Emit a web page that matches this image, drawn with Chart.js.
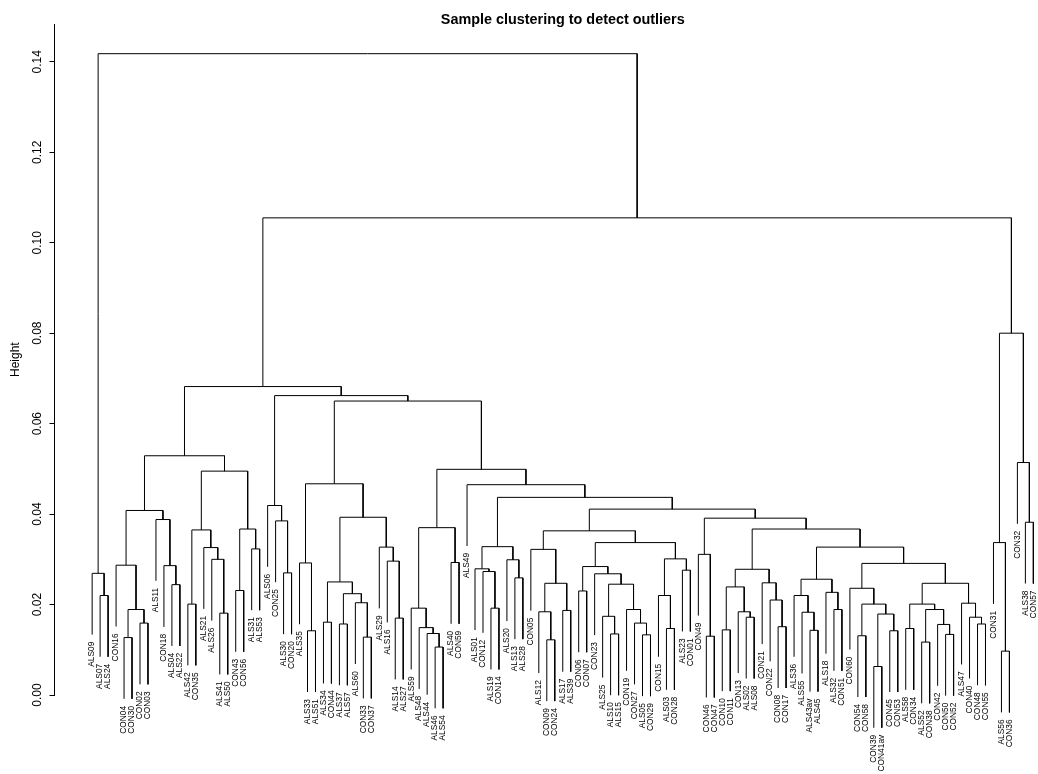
<!DOCTYPE html>
<html><head><meta charset="utf-8">
<script src="https://cdn.jsdelivr.net/npm/chart.js@4"></script>
<style>html,body{margin:0;padding:0;overflow:hidden;background:#fff}</style>
</head><body>
<canvas id="c" width="1071" height="774"></canvas>
<script>
// ---- data: y-axis ticks ----
const yTicks = [0, 0.02, 0.04, 0.06, 0.08, 0.10, 0.12, 0.14];

// ---- data: dendrogram subtrees, each node = [left, right, mergeHeight] ----
const outlierGroup = ["ALS09", ["ALS07", "ALS24", 0.0220], 0.0269];

const groupL1 = [
  ["CON16", [["CON04", "CON30", 0.0127], ["CON02", "CON03", 0.0159], 0.0189], 0.0287],
  ["ALS11", ["CON18", ["ALS04", "ALS22", 0.0244], 0.0286], 0.0388],
  0.0408];

const groupL2 = [
  [["ALS42", "CON35", 0.0201], ["ALS21", ["ALS26", ["ALS41", "ALS50", 0.0181], 0.0300], 0.0326], 0.0365],
  [["CON43", "CON56", 0.0231], ["ALS31", "ALS53", 0.0323], 0.0367],
  0.0495];

const groupM = ["ALS06", ["CON25", ["ALS30", "CON20", 0.0270], 0.0385], 0.0419];

const groupN = [
  ["ALS35", ["ALS33", "ALS51", 0.0142], 0.0292],
  [
    [["ALS34", "CON44", 0.0161], [["ALS37", "ALS57", 0.0157], ["ALS60", ["CON33", "CON37", 0.0128], 0.0204], 0.0224], 0.0250],
    ["ALS29", ["ALS16", ["ALS14", "ALS27", 0.0170], 0.0296], 0.0327],
    0.0393],
  0.0467];

const groupO = [
  ["ALS59", ["ALS48", ["ALS44", ["ALS46", "ALS54", 0.0106], 0.0136], 0.0149], 0.0192],
  ["ALS40", "CON59", 0.0293],
  0.0370];

const groupP1 = [
  ["ALS01", ["CON12", ["ALS19", "CON14", 0.0192], 0.0273], 0.0279],
  ["ALS20", ["ALS13", "ALS28", 0.0259], 0.0299],
  0.0328];

const groupP2 = [
  ["CON05", [["ALS12", ["CON09", "CON24", 0.0122], 0.0184], ["ALS17", "ALS39", 0.0187], 0.0247], 0.0322],
  [
    [["CON06", "CON07", 0.0230],
     ["CON23", [["ALS25", ["ALS10", "ALS15", 0.0135], 0.0174],
                ["CON19", ["CON27", ["ALS05", "CON29", 0.0133], 0.0159], 0.0189], 0.0245], 0.0268],
     0.0284],
    [["CON15", ["ALS03", "CON28", 0.0147], 0.0220], ["ALS23", "CON01", 0.0276], 0.0301],
    0.0337],
  0.0363];

const groupP3 = [
  ["CON49", ["CON46", "CON47", 0.0130], 0.0311],
  [
    [[["CON10", "CON11", 0.0144], ["CON13", ["ALS02", "ALS08", 0.0172], 0.0184], 0.0239],
     ["CON21", ["CON22", ["CON08", "CON17", 0.0151], 0.0210], 0.0248],
     0.0278],
    [
      [["ALS36", ["ALS55", ["ALS43av", "ALS45", 0.0143], 0.0183], 0.0220],
       ["ALS18", ["ALS32", "CON51", 0.0189], 0.0227],
       0.0256],
      [["CON60", [["CON54", "CON58", 0.0131], [["CON39", "CON41av", 0.0063], ["CON45", "CON53", 0.0142], 0.0179], 0.0201], 0.0236],
       [[["ALS58", "CON34", 0.0147], [["ALS52", "CON38", 0.0117], ["CON42", ["CON50", "CON52", 0.0134], 0.0156], 0.0189], 0.0201],
        ["ALS47", ["CON40", ["CON48", "CON55", 0.0157], 0.0172], 0.0203],
        0.0247],
       0.0291],
      0.0327],
    0.0367],
  0.0391];

const groupRight = [
  ["CON31", ["ALS56", "CON36", 0.0097], 0.0337],
  ["CON32", ["ALS38", "CON57", 0.0382], 0.0514],
  0.0800];

const groupP = [groupP1, [groupP2, groupP3, 0.0411], 0.0437];
const groupQ = [groupO, ["ALS49", groupP, 0.0465], 0.0499];
const groupLeft = [[groupL1, groupL2, 0.0529], [groupM, [groupN, groupQ, 0.0650], 0.0662], 0.0682];
const tree = [outlierGroup, [groupLeft, groupRight, 0.1055], 0.1418];

// ---- build dendrogram geometry (R plot.hclust conventions) ----
const HANG = 0.1;
const FONT = '"Liberation Sans", Arial, Helvetica, sans-serif';
function collectHeights(n, out) {
  if (typeof n === 'string') return out;
  out.push(n[2]); collectHeights(n[0], out); collectHeights(n[1], out); return out;
}
const allH = collectHeights(tree, []);
const hang = HANG * (Math.max(...allH) - Math.min(...allH));
const leaves = [];
const segments = [];
let leafCount = 0;
function build(n) {
  if (typeof n === 'string') {
    leafCount++;
    const lf = {label: n, x: leafCount, leaf: true};
    leaves.push(lf);
    return lf;
  }
  const a = build(n[0]), b = build(n[1]), h = n[2];
  const ya = a.leaf ? h - hang : a.h;
  const yb = b.leaf ? h - hang : b.h;
  if (a.leaf) a.end = ya;
  if (b.leaf) b.end = yb;
  segments.push([{x: a.x, y: ya}, {x: a.x, y: h}, {x: b.x, y: h}, {x: b.x, y: yb}]);
  return {x: (a.x + b.x) / 2, h: h, leaf: false};
}
build(tree);
const nLeaves = leaves.length;
const xPad = 0.04 * (nLeaves - 1);

const datasets = segments.map(pts => ({
  data: pts, showLine: true, borderColor: '#000', borderWidth: 1,
  pointRadius: 0, pointHoverRadius: 0, fill: false, tension: 0, clip: false
}));

const leafLabelPlugin = {
  id: 'leafLabels',
  afterDatasetsDraw(chart) {
    const {ctx, scales: {x, y}} = chart;
    ctx.save();
    ctx.font = '8.4px ' + FONT;
    ctx.fillStyle = '#000';
    ctx.textAlign = 'right';
    ctx.textBaseline = 'middle';
    const off = ctx.measureText('m').width;
    for (const lf of leaves) {
      const px = x.getPixelForValue(lf.x);
      const py = y.getPixelForValue(lf.end) + off;
      ctx.save();
      ctx.translate(px, py);
      ctx.rotate(-Math.PI / 2);
      ctx.fillText(lf.label, 0, 0);
      ctx.restore();
    }
    ctx.restore();
  }
};

new Chart(document.getElementById('c'), {
  type: 'scatter',
  data: {datasets},
  options: {
    responsive: false, animation: false, devicePixelRatio: 1, events: [],
    layout: {padding: {left: 0, right: 0, top: 0, bottom: 79}},
    plugins: {
      legend: {display: false},
      tooltip: {enabled: false},
      title: {
        display: true, text: 'Sample clustering to detect outliers', fullSize: false,
        color: '#000', font: {family: FONT, size: 14.4, weight: 'bold', lineHeight: '8.6px'},
        padding: {top: 15.7, bottom: 0}
      }
    },
    scales: {
      x: {type: 'linear', display: false, min: 1 - xPad, max: nLeaves + xPad},
      y: {
        type: 'linear', min: 0, max: 0.1483,
        border: {display: true, color: '#000', width: 1},
        grid: {display: true, drawOnChartArea: false, drawTicks: true, tickLength: 5, color: '#000'},
        ticks: {
          minRotation: 90, maxRotation: 90, crossAlign: 'center', padding: 0,
          color: '#000', font: {family: FONT, size: 12},
          callback: v => Number(v).toFixed(2)
        },
        afterBuildTicks: s => { s.ticks = yTicks.map(v => ({value: v})); },
        afterFit: s => { s.width = 54.5; },
        title: {display: true, text: 'Height', color: '#000', font: {family: FONT, size: 12}, padding: {top: 8, bottom: 0}}
      }
    }
  },
  plugins: [leafLabelPlugin]
});
</script>
</body></html>
